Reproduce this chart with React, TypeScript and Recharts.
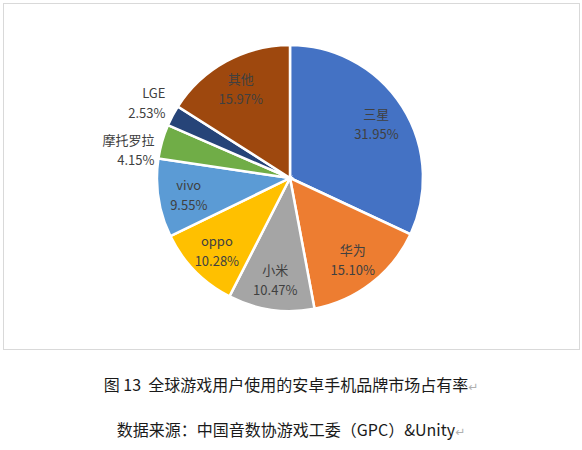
import { PieChart, Pie, Cell } from 'recharts';

const brands = ['三星', '华为', '小米', 'oppo', 'vivo', '摩托罗拉', 'LGE', '其他'];
const shares = [31.95, 15.1, 10.47, 10.28, 9.55, 4.15, 2.53, 15.97];
const sliceColors = [
  '#4472c4',
  '#ed7d31',
  '#a5a5a5',
  '#ffc000',
  '#5b9bd5',
  '#70ad47',
  '#264478',
  '#9e480e',
];

const caption = '图 13  全球游戏用户使用的安卓手机品牌市场占有率';
const source = '数据来源：中国音数协游戏工委（GPC）&Unity';

const data = brands.map((name, i) => ({ name, value: shares[i] }));

const RAD = Math.PI / 180;
const font = '"Noto Sans CJK SC", "Noto Sans", sans-serif';
const LINE = 20;

// big slices: label centred inside; small ones: label box outside,
// right edge on the slice ray, nudged up/down the way Excel's best fit does
const renderLabel = (props: any) => {
  const { cx, cy, midAngle, outerRadius, name, value } = props;
  const cos = Math.cos(-midAngle * RAD);
  const sin = Math.sin(-midAngle * RAD);
  let x: number;
  let y: number;
  let anchor: 'middle' | 'end' = 'middle';
  if (value < 5) {
    const r = outerRadius * 1.06;
    x = cx + r * cos;
    const py = cy + r * sin;
    const frac = 0.5 + 2.5 * (-sin - 0.37);
    y = py - 2 * LINE * (frac - 0.5);
    anchor = 'end';
  } else {
    const r = outerRadius * 0.77;
    x = cx + r * cos;
    y = cy + r * sin;
  }
  return (
    <text
      x={x}
      y={y}
      textAnchor={anchor}
      dominantBaseline='central'
      fill='#404040'
      fontSize={13}
      fontFamily={font}
    >
      <tspan x={x} y={y - LINE / 2}>
        {name}
      </tspan>
      <tspan x={x} y={y + LINE / 2}>
        {value.toFixed(2)}%
      </tspan>
    </text>
  );
};

const Mark = () => (
  <span style={{ color: '#b0b0b0', fontSize: 12, fontFamily: 'DejaVu Sans' }}>↵</span>
);

const captionStyle = {
  position: 'absolute' as const,
  left: 0,
  width: 582,
  textAlign: 'center' as const,
  fontFamily: font,
  fontSize: 16,
  color: '#1a1a1a',
  whiteSpace: 'pre' as const,
};

export default function App() {
  return (
    <div
      style={{
        position: 'absolute',
        left: 0,
        top: 0,
        width: 582,
        height: 450,
        background: '#fff',
      }}
    >
      {/* chart frame */}
      <div
        style={{
          position: 'absolute',
          left: 3,
          top: 3,
          width: 575,
          height: 345,
          border: '1px solid #d9d9d9',
        }}
      />
      <div style={{ position: 'absolute', left: 0, top: 0 }}>
        <PieChart
          width={582}
          height={352}
          margin={{ top: 0, right: 0, bottom: 0, left: 0 }}
        >
          <Pie
            data={data}
            dataKey='value'
            nameKey='name'
            cx={290}
            cy={178}
            outerRadius={133}
            startAngle={90}
            endAngle={-270}
            stroke='#ffffff'
            strokeWidth={2.5}
            label={renderLabel}
            labelLine={false}
            isAnimationActive={false}
          >
            {data.map((d, i) => (
              <Cell key={d.name} fill={sliceColors[i]} />
            ))}
          </Pie>
        </PieChart>
      </div>

      {/* captions */}
      <div style={{ ...captionStyle, top: 372 }}>
        {caption}
        <Mark />
      </div>
      <div style={{ ...captionStyle, top: 417 }}>
        {source}
        <Mark />
      </div>
    </div>
  );
}
